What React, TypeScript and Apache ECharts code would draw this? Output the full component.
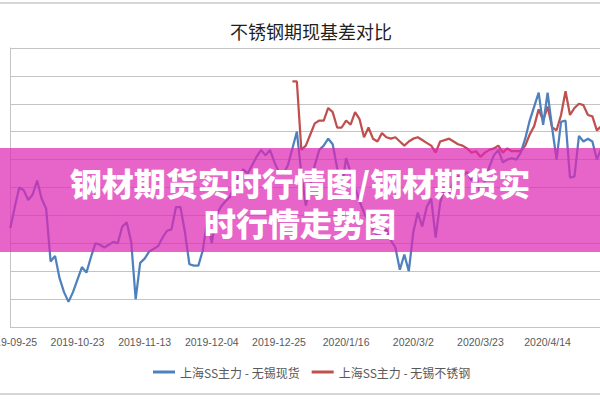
import React, { useEffect, useRef } from 'react';
import * as echarts from 'echarts';

const chartTitle = '不锈钢期现基差对比';
const bannerLine1 = '钢材期货实时行情图/钢材期货实';
const bannerLine2 = '时行情走势图';

const tickLabels = [
  '2019-09-25', '2019-10-23', '2019-11-13', '2019-12-04', '2019-12-25',
  '2020/1/16', '2020/3/2', '2020/3/23', '2020/4/14',
];
const tickStep = 15;

const blueName = '上海SS主力 - 无锡现货';
const redName = '上海SS主力 - 无锡不锈钢';

// 上海SS主力 - 无锡现货 (index 0 .. 132)
const blueValues = [
  -490, -340, -200, -220, -290, -250, -150, -280, -350, -730,
  -690, -850, -950, -1020, -950, -860, -770, -810, -700, -600,
  -610, -630, -610, -590, -600, -480, -450, -590, -1000, -740,
  -710, -660, -640, -620, -560, -510, -500, -340, -340, -520,
  -750, -760, -760, -650, -430, -600, -400, -340, -300, -270,
  -190, -120, -70, -100, -40, 20, 70, 30, 70, -20,
  -90, -100, -40, 80, 200, -100, -330, -180, -40, 70,
  100, 150, 110, -60, -200, 10, -90, -200, -300, -380,
  -450, -500, -550, -530, -500, -580, -630, -790, -680, -800,
  -520, -380, -480, -340, -280, -560, -310, -200, -250, -150,
  -120, -120, -90, -150, -100, -250, -150, -50, 30, 70,
  -20, 0, 10, 0, 50, 150, 280, 380, 480, 250,
  480, 230, 0, 270, 280, -130, -120, 170, 130, 150,
  130, 0, 80,
];

// 上海SS主力 - 无锡不锈钢 (starts at index 63)
const redStartIndex = 63;
const redValues = [
  560, 560, 70, 100, 180, 260, 280, 280, 370, 340,
  230, 230, 280, 250, 340, 290, 160, 230, 150, 130,
  190, 160, 150, 160, 130, 100, 130, 150, 160, 140,
  120, 100, 50, 130, 140, 150, 130, 110, 100, 80,
  50, 60, 20, 50, 70, 80, 100, 50, 80, 60,
  60, 60, 100, 180, 240, 360, 280, 380, 230, 210,
  320, 490, 320, 370, 400, 390, 320, 310, 210, 240,
];

const yMin = -1200;
const yMax = 800;
const yStep = 200;

export default function App() {
  const ref = useRef<HTMLDivElement>(null);

  useEffect(() => {
    if (!ref.current) return;
    const chart = echarts.init(ref.current, null, { renderer: 'svg' });
    const blueData = blueValues.map((v, i) => [i, v]);
    const redData = redValues.map((v, i) => [redStartIndex + i, v]);
    const gridColor = '#c4c4c4';

    chart.setOption({
      animation: false,
      backgroundColor: '#ffffff',
      grid: {
        left: 10.3,
        right: 0,
        top: 48,
        bottom: 73,
        containLabel: false,
        outerBoundsMode: 'none',
      },
      legend: {
        left: 148,
        top: 361,
        icon: 'rect',
        itemWidth: 22,
        itemHeight: 3,
        itemGap: 12,
        textStyle: { fontSize: 12, color: '#595959', fontFamily: '"Noto Sans CJK SC"' },
        data: [blueName, redName],
      },
      xAxis: {
        type: 'value',
        min: 0,
        max: 131.7,
        interval: tickStep,
        axisLine: { show: true, onZero: false, lineStyle: { color: gridColor, width: 1 } },
        axisTick: { show: false },
        splitLine: { show: false },
        axisLabel: {
          margin: 9,
          color: '#595959',
          fontSize: 10.5,
          fontFamily: '"Liberation Sans", Arial, sans-serif',
          showMinLabel: true,
          showMaxLabel: false,
          hideOverlap: false,
          formatter: (v: number) => {
            const k = v / tickStep;
            return Number.isInteger(k) && tickLabels[k] ? tickLabels[k] : '';
          },
        },
      },
      yAxis: {
        type: 'value',
        min: yMin,
        max: yMax,
        interval: yStep,
        axisLine: { show: true, onZero: false, lineStyle: { color: gridColor, width: 1 } },
        axisTick: { show: false },
        axisLabel: { show: false },
        splitLine: { show: true, lineStyle: { color: gridColor, width: 1 } },
      },
      series: [
        {
          name: blueName,
          type: 'line',
          data: blueData,
          showSymbol: false,
          symbol: 'none',
          color: '#4F81BD',
          lineStyle: { color: '#4F81BD', width: 2.25 },
          emphasis: { disabled: true },
          z: 3,
        },
        {
          name: redName,
          type: 'line',
          data: redData,
          showSymbol: false,
          symbol: 'none',
          color: '#C0504D',
          lineStyle: { color: '#C0504D', width: 2.25 },
          emphasis: { disabled: true },
          z: 2,
        },
      ],
      graphic: [
        {
          type: 'line',
          shape: { x1: 0, y1: 3, x2: 600, y2: 3 },
          style: { stroke: '#d6d6d6', lineWidth: 2 },
          z: 1,
        },
        {
          type: 'line',
          shape: { x1: 0, y1: 394, x2: 600, y2: 394 },
          style: { stroke: '#d6d6d6', lineWidth: 2 },
          z: 1,
        },
        {
          type: 'text',
          x: 311,
          y: 31,
          style: {
            text: chartTitle,
            fill: '#1f1f1f',
            fontSize: 18,
            fontFamily: '"Noto Sans CJK SC"',
            align: 'center',
            verticalAlign: 'middle',
          },
          z: 10,
        },
        {
          type: 'rect',
          shape: { x: 0, y: 148, width: 600, height: 104 },
          style: { fill: 'rgba(222, 40, 180, 0.72)' },
          z: 100,
        },
        {
          type: 'text',
          x: 300,
          y: 202,
          style: {
            text: bannerLine1 + '\n' + bannerLine2,
            fill: '#ffffff',
            fontSize: 32,
            lineHeight: 40,
            fontWeight: 900,
            fontFamily: '"Noto Sans CJK SC"',
            align: 'center',
            verticalAlign: 'middle',
          },
          z: 101,
        },
      ],
    });

    return () => chart.dispose();
  }, []);

  return (
    <div
      ref={ref}
      style={{ position: 'fixed', left: 0, top: 0, width: 600, height: 400 }}
    />
  );
}
